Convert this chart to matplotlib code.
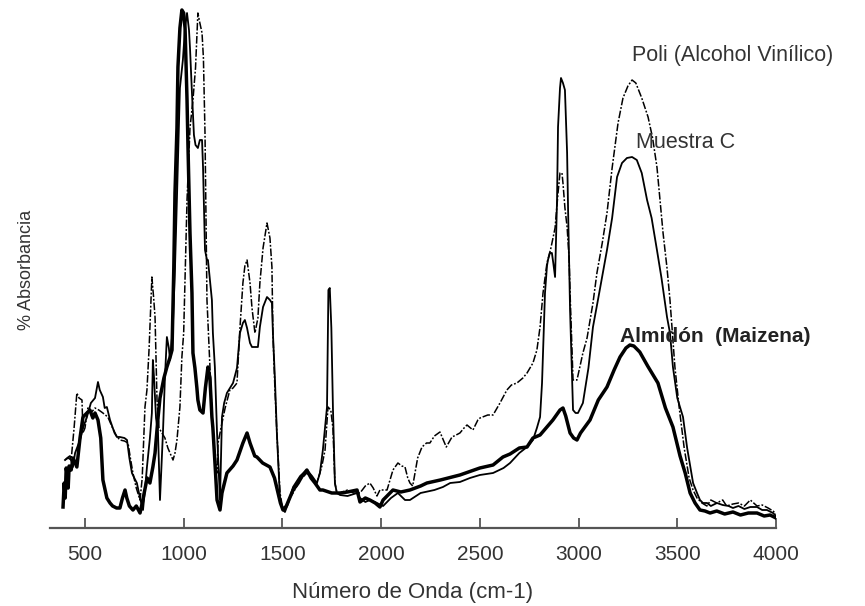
import matplotlib
matplotlib.use("Agg")
import matplotlib.pyplot as plt

# ---------------- data (wavenumber cm-1, relative absorbance) ----------------
starch_wn = [389, 395, 400, 405, 409, 415, 420, 430, 440, 459, 475, 490, 510, 525, 540, 551, 566, 580, 591, 600,
             611, 627, 640, 660, 677, 690, 703, 712, 725, 743, 760, 779, 790, 800, 815, 829, 844, 855, 870, 880,
             900, 915, 930, 941, 950, 956, 966, 971, 981, 991, 1000, 1007, 1017, 1022, 1032, 1042, 1047, 1057, 1067, 1072,
             1082, 1098, 1110, 1123, 1133, 1143, 1148, 1160, 1169, 1184, 1194, 1219, 1250, 1270, 1300, 1321, 1336, 1360, 1371, 1400,
             1437, 1460, 1478, 1490, 1503, 1520, 1554, 1580, 1600, 1624, 1645, 1665, 1690, 1705, 1750, 1792, 1830, 1878, 1893, 1920,
             1943, 1970, 1994, 2010, 2030, 2060, 2100, 2146, 2200, 2232, 2300, 2399, 2500, 2567, 2617, 2653, 2700, 2739, 2769, 2805,
             2840, 2870, 2906, 2921, 2935, 2957, 2975, 2992, 3010, 3058, 3100, 3144, 3180, 3210, 3240, 3260, 3280, 3310, 3350, 3402,
             3440, 3478, 3514, 3540, 3565, 3590, 3615, 3640, 3666, 3700, 3740, 3782, 3820, 3860, 3904, 3940, 3970, 4000]
starch_abs = [21, 45, 30, 60, 55, 40, 62, 58, 70, 61, 90, 111, 115, 118, 110, 115, 108, 90, 48, 40,
              30, 25, 22, 20, 20, 30, 38, 30, 22, 18, 22, 15, 25, 35, 50, 45, 61, 75, 110, 130,
              150, 161, 170, 178, 260, 335, 400, 461, 500, 518, 515, 500, 428, 380, 295, 235, 175, 160, 140, 128,
              118, 115, 140, 161, 150, 111, 100, 60, 28, 18, 35, 55, 62, 68, 85, 95, 85, 72, 71, 65,
              61, 50, 35, 25, 18, 22, 38, 45, 52, 58, 50, 45, 38, 38, 35, 35, 36, 38, 26, 30,
              28, 25, 21, 28, 32, 38, 36, 38, 42, 45, 48, 53, 60, 63, 71, 74, 80, 81, 90, 93,
              101, 108, 118, 120, 112, 95, 90, 88, 95, 108, 128, 141, 158, 171, 180, 183, 182, 176, 162, 145,
              120, 101, 72, 55, 35, 25, 18, 17, 15, 17, 14, 16, 13, 15, 15, 12, 13, 10]

muestra_wn = [399, 410, 424, 439, 450, 475, 490, 510, 530, 551, 566, 575, 591, 600, 611, 627, 650, 662, 677, 700,
              713, 725, 738, 750, 763, 779, 794, 805, 814, 829, 839, 844, 850, 860, 870, 880, 887, 895, 905, 915,
              925, 931, 945, 956, 966, 981, 996, 1007, 1017, 1027, 1032, 1042, 1052, 1060, 1072, 1082, 1093, 1098, 1108, 1118,
              1123, 1143, 1148, 1158, 1169, 1184, 1194, 1205, 1219, 1250, 1270, 1285, 1300, 1310, 1321, 1336, 1346, 1361, 1376, 1386,
              1402, 1422, 1437, 1447, 1452, 1462, 1472, 1488, 1503, 1513, 1530, 1554, 1590, 1624, 1650, 1675, 1690, 1705, 1716, 1726,
              1733, 1740, 1748, 1756, 1766, 1776, 1792, 1830, 1878, 1893, 1920, 1943, 1979, 2010, 2050, 2085, 2121, 2146, 2200, 2270,
              2313, 2350, 2399, 2450, 2500, 2567, 2620, 2653, 2700, 2739, 2769, 2789, 2805, 2815, 2830, 2840, 2845, 2855, 2865, 2872,
              2881, 2891, 2896, 2906, 2911, 2921, 2931, 2942, 2947, 2957, 2972, 2985, 2997, 3022, 3050, 3073, 3100, 3144, 3170, 3195,
              3220, 3245, 3271, 3295, 3320, 3347, 3370, 3397, 3420, 3448, 3463, 3478, 3500, 3529, 3550, 3580, 3600, 3615, 3630, 3651,
              3670, 3701, 3730, 3760, 3782, 3810, 3840, 3870, 3904, 3930, 3954, 3985, 4000]
muestra_abs = [68, 70, 72, 61, 75, 88, 100, 111, 125, 130, 146, 138, 131, 120, 121, 108, 95, 91, 91, 90,
               88, 70, 55, 50, 45, 30, 18, 40, 61, 90, 115, 168, 150, 110, 95, 28, 60, 95, 150, 191,
               180, 168, 200, 260, 330, 440, 468, 500, 515, 498, 480, 435, 393, 383, 380, 388, 388, 361, 278, 268,
               268, 228, 195, 161, 95, 28, 111, 125, 135, 145, 160, 195, 205, 208, 200, 185, 181, 181, 181, 201,
               221, 231, 228, 225, 195, 150, 95, 28, 18, 16, 25, 41, 52, 58, 52, 45, 55, 78, 100, 121,
               238, 240, 200, 120, 45, 35, 33, 32, 35, 30, 26, 28, 25, 22, 30, 35, 28, 28, 35, 38,
               41, 45, 46, 50, 53, 55, 60, 65, 75, 81, 88, 100, 111, 145, 235, 262, 268, 275, 275, 265,
               251, 328, 401, 440, 450, 445, 438, 375, 318, 218, 118, 115, 115, 125, 160, 201, 230, 278, 310, 351,
               365, 370, 371, 368, 355, 328, 310, 278, 250, 211, 195, 161, 130, 111, 80, 45, 35, 28, 25, 25,
               22, 25, 23, 22, 20, 22, 19, 21, 21, 18, 18, 15, 12]

pva_wn = [399, 415, 430, 445, 459, 470, 485, 490, 500, 515, 530, 551, 570, 591, 616, 640, 660, 677, 700, 718,
          730, 743, 760, 779, 790, 804, 814, 825, 839, 848, 855, 865, 875, 890, 905, 920, 931, 946, 956, 966,
          981, 991, 1000, 1017, 1032, 1047, 1060, 1072, 1082, 1093, 1100, 1108, 1118, 1133, 1148, 1158, 1169, 1174, 1184, 1194,
          1210, 1234, 1250, 1270, 1285, 1300, 1310, 1321, 1336, 1346, 1361, 1376, 1386, 1402, 1422, 1437, 1447, 1452, 1462, 1472,
          1488, 1503, 1513, 1530, 1554, 1590, 1624, 1650, 1675, 1700, 1716, 1731, 1745, 1756, 1766, 1776, 1792, 1830, 1860, 1893,
          1920, 1943, 1960, 1979, 1994, 2030, 2060, 2085, 2105, 2121, 2135, 2146, 2160, 2185, 2207, 2230, 2247, 2270, 2298, 2330,
          2359, 2380, 2399, 2420, 2435, 2465, 2490, 2501, 2540, 2567, 2602, 2637, 2660, 2688, 2718, 2739, 2769, 2789, 2805, 2820,
          2840, 2860, 2881, 2896, 2906, 2916, 2921, 2931, 2942, 2952, 2957, 2972, 2992, 3022, 3043, 3073, 3093, 3120, 3144, 3170,
          3200, 3225, 3250, 3271, 3290, 3320, 3352, 3375, 3397, 3428, 3448, 3463, 3488, 3510, 3535, 3560, 3580, 3600, 3625, 3650,
          3670, 3700, 3730, 3750, 3782, 3810, 3840, 3870, 3904, 3930, 3960, 3985, 4000]
pva_abs = [68, 70, 68, 100, 135, 130, 128, 95, 100, 120, 115, 120, 118, 115, 111, 100, 92, 88, 87, 85,
           70, 55, 40, 28, 50, 121, 138, 180, 251, 230, 211, 128, 100, 95, 90, 80, 75, 68, 75, 88,
           121, 171, 195, 328, 400, 428, 460, 515, 505, 495, 470, 395, 228, 161, 95, 70, 55, 85, 95, 105,
           120, 138, 140, 145, 200, 245, 262, 268, 245, 220, 195, 210, 245, 280, 305, 290, 261, 195, 140, 95,
           35, 18, 18, 28, 35, 48, 55, 50, 45, 62, 78, 121, 118, 100, 45, 35, 35, 38, 35, 35,
           42, 45, 40, 32, 38, 38, 58, 65, 62, 61, 50, 45, 42, 70, 81, 85, 85, 92, 96, 81,
           91, 93, 95, 100, 103, 98, 108, 110, 113, 113, 125, 138, 143, 145, 150, 155, 165, 178, 201, 235,
           265, 280, 300, 335, 355, 355, 345, 320, 301, 270, 235, 148, 148, 175, 190, 225, 255, 285, 315, 360,
           405, 430, 442, 448, 445, 430, 411, 390, 361, 295, 260, 228, 161, 120, 80, 50, 38, 30, 25, 22,
           28, 25, 28, 22, 24, 25, 22, 28, 22, 23, 20, 17, 14]

x_ticks = [500, 1000, 1500, 2000, 2500, 3000, 3500, 4000]
x_label = "Número de Onda (cm-1)"
y_label = "% Absorbancia"
label_pva = "Poli (Alcohol Vinílico)"
label_muestra = "Muestra C"
label_starch = "Almidón  (Maizena)"

# ---------------- figure ----------------
plt.rcParams['font.family'] = ['Liberation Sans', 'DejaVu Sans']
W, H = 865, 606
fig = plt.figure(figsize=(W / 100, H / 100), dpi=100)
x0, x1, ybot, ytop = 50, 776, 528, 5
ax = fig.add_axes([x0 / W, (H - ybot) / H, (x1 - x0) / W, (ybot - ytop) / H])

ax.plot(pva_wn, pva_abs, color='black', lw=1.1, ls=(0, (5, 1.2, 1.2, 1.2)))
ax.plot(muestra_wn, muestra_abs, color='black', lw=1.3, ls='-')
ax.plot(starch_wn, starch_abs, color='black', lw=2.5, ls='-')

ax.set_xlim(323, 4000)
ax.set_ylim(0, 523)

for s in ['top', 'right', 'left']:
    ax.spines[s].set_visible(False)
ax.spines['bottom'].set_color('#555555')
ax.spines['bottom'].set_linewidth(1.6)
ax.set_yticks([])
ax.set_xticks(x_ticks)
ax.tick_params(axis='x', direction='in', length=7, width=1.3, color='#555555',
               labelsize=15, labelcolor='#333333', pad=12)
ax.set_xlabel(x_label, fontsize=16, color='#333333', labelpad=13)
fig.text(27 / W, 1 - 270 / H, y_label, rotation=90, fontsize=13, color='#333333',
         ha='center', va='center')

ax.text(3271, 473, label_pva, fontsize=15.5, color='#333333', ha='left', va='center')
ax.text(3290, 385, label_muestra, fontsize=15.5, color='#333333', ha='left', va='center')
ax.text(3210, 191, label_starch, fontsize=15, color='#222222', ha='left', va='center',
        fontweight='bold')

fig.savefig('out.png', dpi=100)
